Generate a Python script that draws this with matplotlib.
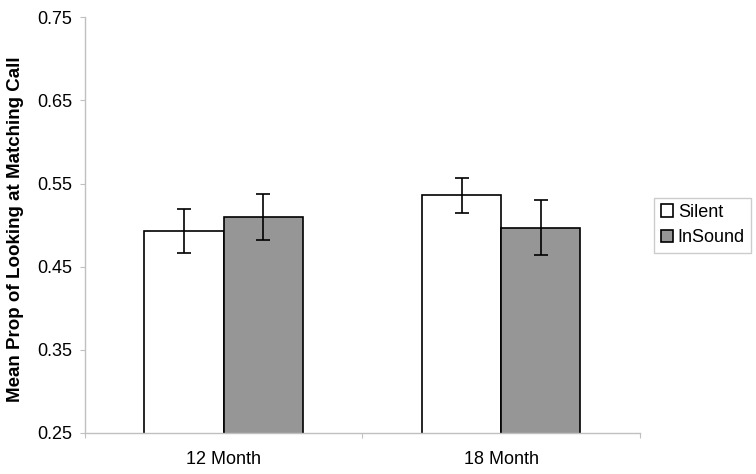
import matplotlib
matplotlib.use("Agg")
import matplotlib.pyplot as plt
import numpy as np

plt.rcParams['font.family'] = ['Liberation Sans', 'DejaVu Sans']

# data
groups = ["12 Month", "18 Month"]
series = ["Silent", "InSound"]
silent = [0.493, 0.536]
insound = [0.510, 0.497]
silent_err = [0.027, 0.021]
insound_err = [0.028, 0.033]
colors = ["white", "#969696"]

fig = plt.figure(figsize=(7.56, 4.74), dpi=100)
ax = fig.add_axes([0.1124, 0.0865, 0.7341, 0.877])

x = np.arange(len(groups))
width = 0.2857
err_kw = dict(ecolor="black", elinewidth=1.2, capsize=5, capthick=1.2)
ax.bar(x - width / 2, silent, width, bottom=0, yerr=silent_err, color=colors[0],
       edgecolor="black", linewidth=1.2, label=series[0], error_kw=err_kw, zorder=2)
ax.bar(x + width / 2, insound, width, bottom=0, yerr=insound_err, color=colors[1],
       edgecolor="black", linewidth=1.2, label=series[1], error_kw=err_kw, zorder=2)

ax.set_xlim(-0.5, len(groups) - 0.5)
ax.set_ylim(0.25, 0.75)
ax.set_yticks(np.arange(0.25, 0.76, 0.1))
ax.set_yticklabels([f"{v:.2f}" for v in np.arange(0.25, 0.76, 0.1)])

# category labels centred, ticks on category boundaries
ax.set_xticks(np.arange(-0.5, len(groups), 1.0))
ax.set_xticklabels([])
ax.set_xticks(x, minor=True)
ax.set_xticklabels(groups, minor=True, fontsize=13)
ax.tick_params(axis="x", which="minor", length=0, pad=13)
ax.tick_params(axis="x", which="major", length=3.6, color="#c0c0c0", direction="out")
ax.tick_params(axis="y", length=3.6, color="#c0c0c0", labelsize=13, pad=5.5)

for side in ["top", "right"]:
    ax.spines[side].set_visible(False)
for side in ["left", "bottom"]:
    ax.spines[side].set_color("#c0c0c0")
    ax.spines[side].set_linewidth(1.0)

ax.set_ylabel("Mean Prop of Looking at Matching Call", fontsize=13.5,
              fontweight="bold")
ax.yaxis.set_label_coords(-0.11, 0.49)

leg = ax.legend(loc="center left", bbox_to_anchor=(1.0, 0.5), fontsize=13,
                frameon=True, fancybox=False, handlelength=0.7, handleheight=0.7,
                handletextpad=0.25, borderpad=0.35, labelspacing=0.45,
                borderaxespad=0.8)
leg.get_frame().set_edgecolor("#c0c0c0")
leg.get_frame().set_linewidth(1.0)

fig.savefig("out.png", dpi=100)
